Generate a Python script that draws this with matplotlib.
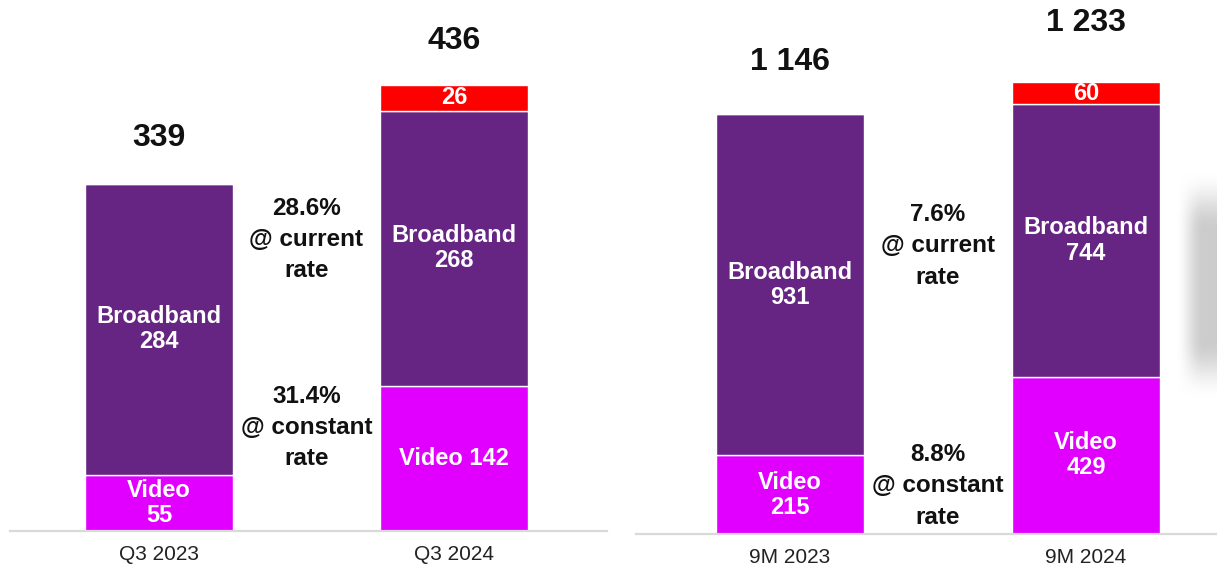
import matplotlib.pyplot as plt
import numpy as np

plt.rcParams['font.family'] = ['Liberation Sans', 'DejaVu Sans']

# data
q_periods = ['Q3 2023', 'Q3 2024']
q_video = [55, 142]
q_broadband = [284, 268]
q_other = [0, 26]
q_growth = ['28.6%\n@ current\nrate', '31.4%\n@ constant\nrate']

m_periods = ['9M 2023', '9M 2024']
m_video = [215, 429]
m_broadband = [931, 744]
m_other = [0, 60]
m_growth = ['7.6%\n@ current\nrate', '8.8%\n@ constant\nrate']

PURPLE = '#662483'
MAGENTA = '#E100FF'
RED = '#FF0000'
W, H = 1217, 570


def fmt(v):
    return '{:,}'.format(v).replace(',', ' ')


def panel(ax, periods, video, broadband, other, growth, ymax, xlim, total_off, growth_y):
    x = np.arange(len(periods))
    video = np.array(video)
    broadband = np.array(broadband)
    other = np.array(other)
    kw = dict(width=0.5, edgecolor='white', linewidth=1)
    ax.bar(x, video, color=MAGENTA, **kw)
    ax.bar(x, broadband, bottom=video, color=PURPLE, **kw)
    ax.bar(x, other, bottom=video + broadband, color=RED, **kw)

    for i in range(len(x)):
        # video label: single line if the segment is tall enough
        vlab = 'Video %d' % video[i] if (i == 1 and ymax < 600) else 'Video\n%d' % video[i]
        ax.text(x[i], video[i] / 2, vlab, ha='center', va='center', color='white',
                fontsize=17, fontweight='bold', linespacing=1.12)
        ax.text(x[i], video[i] + broadband[i] / 2, 'Broadband\n%d' % broadband[i],
                ha='center', va='center', color='white', fontsize=17,
                fontweight='bold', linespacing=1.12)
        if other[i] > 0:
            ax.text(x[i], video[i] + broadband[i] + other[i] / 2, str(other[i]),
                    ha='center', va='center', color='white', fontsize=17,
                    fontweight='bold')
        total = video[i] + broadband[i] + other[i]
        ax.annotate(fmt(total), (x[i], total), xytext=(0, total_off[i]),
                    textcoords='offset pixels', ha='center', va='center',
                    fontsize=23, fontweight='bold', color='#111111')

    for txt, gy in zip(growth, growth_y):
        ax.text(0.5, gy, txt, ha='center', va='center', fontsize=17.5,
                fontweight='bold', color='#111111', linespacing=1.45)

    ax.set_ylim(0, ymax)
    ax.set_xlim(*xlim)
    ax.set_xticks(x)
    ax.set_xticklabels(periods, fontsize=15, color='#222222')
    ax.tick_params(axis='x', length=0, pad=10)
    ax.set_yticks([])
    for s in ['top', 'right', 'left']:
        ax.spines[s].set_visible(False)
    ax.spines['bottom'].set_color('#d9d9d9')
    ax.spines['bottom'].set_linewidth(1.6)


fig = plt.figure(figsize=(W / 100, H / 100), dpi=100)

ax1 = fig.add_axes([10 / W, (H - 531) / H, (607 - 10) / W, 531 / H])
panel(ax1, q_periods, q_video, q_broadband, q_other, q_growth,
      ymax=531 / 1.024, xlim=(-0.505, 1.519), total_off=[46, 44],
      growth_y=[285, 101])

ax2 = fig.add_axes([636 / W, (H - 534) / H, (W - 636) / W, 534 / H])
panel(ax2, m_periods, m_video, m_broadband, m_other, m_growth,
      ymax=534 / 0.3665, xlim=(-0.52, 1.443), total_off=[52, 59],
      growth_y=[786, 131])

# soft grey shadow at the right edge
sh_h, sh_w = 230, 44
yy, xx = np.mgrid[0:sh_h, 0:sh_w]
fy = np.clip(np.minimum(yy, sh_h - 1 - yy) / 60.0, 0, 1)
fx = np.clip((xx - 2) / 28.0, 0, 1)
blob = (fy * fy * (3 - 2 * fy)) * (fx * fx * (3 - 2 * fx))
img = np.ones((sh_h, sh_w, 4))
img[..., :3] = 0.80
img[..., 3] = blob
fig.figimage(img, xo=W - sh_w, yo=H - 400, origin='upper', zorder=5)

fig.savefig('out.png', dpi=100)
